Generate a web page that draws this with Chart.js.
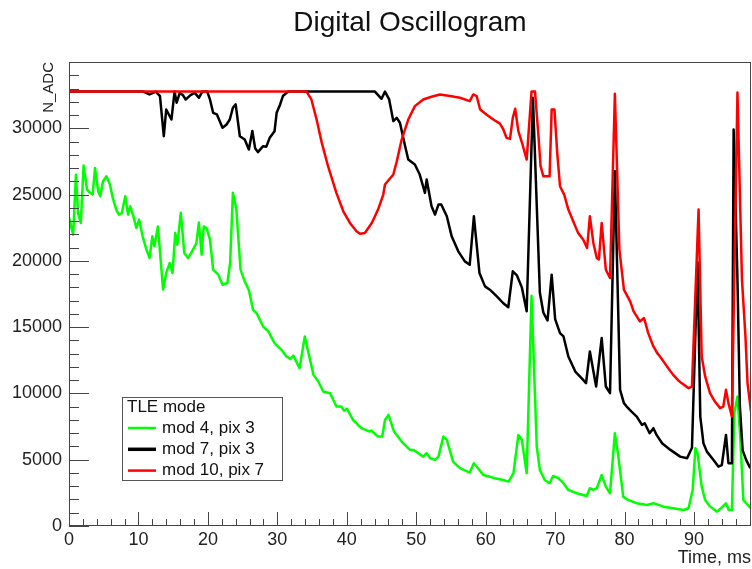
<!DOCTYPE html>
<html>
<head>
<meta charset="utf-8">
<script src="https://cdn.jsdelivr.net/npm/chart.js"></script>
<style>
  html, body { margin: 0; padding: 0; background: #fff; }
  #wrap { width: 752px; height: 569px; }
</style>
</head>
<body>
<div id="wrap"><canvas id="myChart" width="752" height="569"></canvas></div>
<script>
// time in ms, amplitude in ADC counts (saturates at 32767)
const greenT = [0, 0.6, 1.0, 1.3, 1.7, 2.1, 2.6, 3.0, 3.4, 3.75, 4.2, 4.5, 4.9, 5.4, 5.9, 6.3, 6.8, 7.2, 7.6, 8.1, 8.5, 8.8, 9.2, 9.7, 10.1, 10.6, 11.15, 11.6, 12.0, 12.3, 12.8, 13.55, 14.0, 14.5, 14.9, 15.3, 15.6, 16.1, 16.6, 17.15, 17.6, 18.35, 18.7, 19.1, 19.4, 19.8, 20.3, 20.75, 21.5, 22.1, 22.8, 23.2, 23.6, 24.1, 24.7, 25.3, 25.9, 26.5, 27.0, 27.95, 28.7, 29.6, 30.6, 31.3, 31.9, 32.3, 33.2, 33.95, 35.2, 35.9, 36.6, 37.6, 38.5, 39.2, 39.6, 40.0, 40.9, 42.1, 43.3, 43.5, 44.5, 45.1, 45.5, 46.0, 46.8, 47.9, 49.1, 49.6, 50.3, 51.0, 51.5, 52.0, 52.7, 53.2, 53.9, 54.4, 55.3, 56.3, 57.7, 58.3, 58.9, 59.65, 60.6, 61.3, 62.5, 63.3, 64.0, 64.7, 65.2, 65.9, 66.6, 67.35, 67.8, 68.5, 69.2, 69.7, 70.5, 71.2, 71.9, 73.1, 74.55, 75.0, 75.5, 76.0, 76.7, 77.3, 77.9, 78.6, 79.1, 79.8, 80.5, 81.75, 83.2, 84.15, 84.6, 85.6, 87.0, 88.5, 89.2, 89.8, 90.2, 90.5, 91.1, 91.6, 92.3, 93.3, 94.0, 94.6, 95.0, 95.45, 95.8, 96.25, 96.65, 97.1, 98.1];
const greenV = [23260, 21980, 26500, 23600, 22860, 27190, 25380, 25150, 25000, 27000, 25250, 24870, 26000, 26380, 25750, 24750, 23870, 23490, 23600, 24870, 23490, 24120, 23490, 22490, 23100, 21850, 20850, 20220, 21850, 21100, 22600, 17830, 19090, 19840, 19090, 22100, 21220, 23620, 20600, 20220, 20600, 21350, 22900, 20470, 22600, 22480, 21600, 19340, 18960, 18200, 18330, 19840, 25130, 23870, 19340, 18450, 17800, 16300, 16070, 15050, 14680, 13800, 13290, 12790, 12600, 12850, 11910, 14300, 11400, 10900, 10140, 10020, 9010, 9010, 8700, 8850, 8000, 7380, 7120, 7200, 6745, 6745, 8000, 8380, 7120, 6370, 5740, 5740, 5490, 5235, 5490, 5110, 4985, 5235, 6745, 6500, 4860, 4360, 4030, 4735, 4360, 3850, 3720, 3600, 3475, 3350, 3980, 6870, 6500, 3980, 17370, 5990, 4230, 3475, 3225, 3775, 3600, 3225, 2720, 2470, 2265, 2850, 2720, 2850, 3850, 2970, 2470, 7000, 5235, 2215, 1965, 1715, 1585, 1715, 1650, 1460, 1335, 1210, 1335, 2720, 5870, 5490, 2970, 1965, 1480, 1080, 1400, 1715, 1210, 1210, 8530, 9770, 6745, 1960, 1360];

const blackT = [0, 10.7, 11.6, 12.5, 13.1, 13.65, 14.0, 14.75, 15.2, 15.5, 15.95, 16.4, 16.8, 17.5, 18.1, 18.7, 19.2, 19.9, 20.3, 20.75, 21.3, 22.1, 22.7, 23.15, 23.6, 24.0, 24.6, 25.3, 25.9, 26.4, 26.8, 27.2, 27.95, 28.4, 28.9, 29.6, 29.9, 30.4, 30.8, 31.55, 44.05, 45.0, 45.5, 46.1, 46.7, 47.2, 47.65, 48.4, 48.85, 49.8, 50.5, 51.25, 51.5, 52.2, 52.7, 53.2, 53.6, 54.4, 55.1, 56.05, 57.0, 57.7, 58.3, 59.1, 59.9, 60.6, 61.6, 62.5, 63.25, 63.9, 64.5, 65.2, 65.9, 66.8, 67.8, 68.3, 68.9, 69.5, 70.0, 70.7, 71.2, 71.9, 72.9, 73.8, 74.45, 75.0, 75.9, 76.7, 77.3, 77.9, 78.6, 79.35, 79.9, 80.3, 81.0, 81.75, 82.5, 82.9, 83.6, 84.15, 84.6, 85.4, 86.6, 88.0, 89.0, 89.7, 90.5, 90.9, 91.35, 91.85, 92.8, 93.5, 94.0, 94.6, 94.95, 95.45, 95.7, 96.25, 96.6, 97.0, 97.5, 98.1];
const blackV = [32767, 32767, 32550, 32767, 32430, 29400, 31420, 30660, 32767, 31930, 32680, 32500, 32175, 32500, 32670, 32300, 32767, 32767, 32175, 31170, 31045, 30040, 30290, 30660, 31550, 31800, 29400, 29150, 28400, 29800, 28500, 28200, 28650, 28600, 29280, 29780, 31170, 31800, 32430, 32767, 32767, 32225, 32767, 32175, 30540, 30790, 30415, 28650, 27640, 27265, 26510, 25130, 26130, 24115, 23490, 24245, 24245, 23360, 21850, 20720, 19960, 19710, 23360, 19085, 18075, 17825, 17320, 16820, 16500, 19210, 18900, 18000, 16200, 32300, 17600, 16100, 15500, 18960, 15600, 14550, 14300, 12790, 11650, 11150, 10780, 13165, 10520, 14175, 10520, 10020, 26760, 10270, 9270, 9010, 8630, 8255, 7630, 7750, 7000, 7380, 6870, 6245, 5740, 5235, 5110, 5900, 19900, 8255, 6245, 5610, 4985, 4480, 4600, 6870, 4735, 4735, 29900, 18600, 9000, 5700, 4990, 4360];

const redT = [0, 34.2, 34.9, 35.65, 36.4, 37.3, 38.5, 39.5, 40.45, 41.4, 41.9, 42.6, 43.6, 44.5, 45.25, 45.5, 46.0, 46.7, 47.2, 47.9, 48.85, 49.8, 51.0, 52.2, 53.4, 54.85, 56.3, 57.7, 58.2, 58.7, 59.2, 60.1, 61.1, 62.05, 62.5, 63.0, 63.5, 63.9, 64.25, 64.7, 65.3, 65.9, 66.6, 67.1, 67.6, 67.9, 68.3, 69.2, 69.5, 69.9, 70.3, 70.7, 71.3, 71.9, 72.6, 73.3, 74.05, 74.6, 75.0, 75.5, 76.0, 76.3, 76.7, 77.3, 77.9, 78.6, 79.25, 79.9, 80.8, 81.3, 82.2, 82.8, 83.4, 84.15, 84.7, 85.1, 86.1, 87.0, 87.7, 88.2, 89.2, 89.7, 90.65, 91.1, 91.6, 92.3, 93.0, 93.75, 94.2, 94.6, 94.95, 95.45, 96.25, 96.9, 97.4, 97.7, 98.2];
const redV = [32767, 32767, 32175, 30660, 28900, 27140, 25130, 23740, 22860, 22230, 22050, 22100, 22860, 23870, 25000, 25755, 26080, 26510, 27515, 29150, 30660, 31670, 32175, 32380, 32550, 32430, 32300, 32050, 32550, 32430, 31420, 31040, 30660, 30350, 29960, 29280, 29200, 30790, 31470, 29780, 28780, 27640, 32767, 32767, 29400, 27140, 26380, 26380, 31420, 31420, 28150, 25630, 25000, 23870, 22980, 22110, 21600, 20970, 23360, 21350, 20220, 20100, 22860, 19330, 18710, 32600, 20850, 17830, 16940, 16190, 15430, 15690, 14550, 13540, 13040, 12790, 12040, 11400, 11000, 10780, 10400, 10520, 23870, 12790, 11280, 10020, 9390, 8890, 9000, 10270, 9270, 8255, 32700, 18580, 14300, 10780, 8630];

const seriesLabels = ["mod 4, pix 3", "mod 7, pix 3", "mod 10, pix 7"];
const seriesColors = ["#00ff00", "#000000", "#ff0000"];
const xTicks = [0, 10, 20, 30, 40, 50, 60, 70, 80, 90];
const yTicks = [0, 5000, 10000, 15000, 20000, 25000, 30000];
const legendTitle = "TLE mode";

const toPoints = (t, v) => t.map((x, i) => ({ x: x, y: v[i] }));

Chart.defaults.font.family = "'Liberation Sans', Arial, sans-serif";
Chart.defaults.color = "#222";

// ROOT style frame with inward ticks, plus the legend box
const rootFrame = {
  id: "rootFrame",
  afterDraw(chart) {
    const { ctx, chartArea: a, scales: { x, y } } = chart;
    ctx.save();
    ctx.strokeStyle = "#444";
    ctx.lineWidth = 1;
    ctx.strokeRect(a.left + 0.5, a.top + 0.5, a.right - a.left - 1, a.bottom - a.top - 1);
    ctx.beginPath();
    for (let v = 0; v <= x.max; v += 2) {
      const px = Math.round(x.getPixelForValue(v)) + 0.5;
      const len = v % 10 === 0 ? 14 : 7;
      ctx.moveTo(px, a.bottom);
      ctx.lineTo(px, a.bottom - len);
    }
    for (let v = 0; v <= y.max; v += 1000) {
      const py = Math.round(y.getPixelForValue(v)) + 0.5;
      const len = v % 5000 === 0 ? 20 : 10;
      ctx.moveTo(a.left, py);
      ctx.lineTo(a.left + len, py);
    }
    ctx.stroke();

    // legend
    const lx = 122, ly = 397, lw = 160, lh = 83;
    ctx.fillStyle = "#fff";
    ctx.fillRect(lx, ly, lw, lh);
    ctx.strokeStyle = "#555";
    ctx.strokeRect(lx + 0.5, ly + 0.5, lw, lh);
    ctx.font = "17px 'Liberation Sans', Arial, sans-serif";
    ctx.textBaseline = "middle";
    ctx.textAlign = "left";
    ctx.fillStyle = "#111";
    ctx.fillText(legendTitle, lx + 5, ly + 10);
    chart.data.datasets.forEach((ds, i) => {
      const yy = ly + 31 + i * 21.3;
      ctx.beginPath();
      ctx.strokeStyle = ds.borderColor;
      ctx.lineWidth = i === 1 ? 3.5 : 2.5;
      ctx.moveTo(lx + 6, yy);
      ctx.lineTo(lx + 34, yy);
      ctx.stroke();
      ctx.fillStyle = "#111";
      ctx.fillText(ds.label, lx + 40, yy);
    });
    ctx.restore();
  }
};

const ctx = document.getElementById("myChart");

new Chart(ctx, {
  type: "line",
  data: {
    datasets: [
      { label: seriesLabels[0], data: toPoints(greenT, greenV), borderColor: seriesColors[0], order: 3 },
      { label: seriesLabels[1], data: toPoints(blackT, blackV), borderColor: seriesColors[1], order: 2 },
      { label: seriesLabels[2], data: toPoints(redT, redV), borderColor: seriesColors[2], order: 1 },
    ],
  },
  options: {
    responsive: false,
    animation: false,
    events: [],
    layout: { padding: { left: 0, right: 1, top: 0, bottom: 0 } },
    elements: {
      point: { radius: 0 },
      line: { borderWidth: 2.5, tension: 0, borderJoinStyle: "round" },
    },
    plugins: {
      legend: { display: false },
      tooltip: { enabled: false },
      title: {
        display: true,
        text: "Digital Oscillogram",
        fullSize: false,
        color: "#111",
        font: { size: 28, weight: "normal" },
        padding: { top: 6, bottom: 22.4 },
      },
    },
    scales: {
      x: {
        type: "linear",
        min: 0,
        max: 98.2,
        afterBuildTicks: (axis) => { axis.ticks = xTicks.map((v) => ({ value: v })); },
        afterFit: (axis) => { axis.height = 43; },
        grid: { display: false, drawTicks: false },
        border: { display: false },
        ticks: { autoSkip: false, maxRotation: 0, padding: 3, font: { size: 18 }, color: "#222", callback: (v) => String(v) },
        title: { display: true, text: "Time, ms", align: "end", font: { size: 18 }, color: "#222", padding: 0 },
      },
      y: {
        min: 0,
        max: 35000,
        afterBuildTicks: (axis) => { axis.ticks = yTicks.map((v) => ({ value: v })); },
        afterFit: (axis) => { axis.width = 69; },
        grid: { display: false, drawTicks: false },
        border: { display: false },
        ticks: { autoSkip: false, padding: 7, font: { size: 18 }, color: "#222", callback: (v) => String(v) },
        title: { display: true, text: "N_ADC", align: "end", font: { size: 15 }, color: "#222", padding: { top: 40, bottom: 0 } },
      },
    },
  },
  plugins: [rootFrame],
});
</script>
</body>
</html>
